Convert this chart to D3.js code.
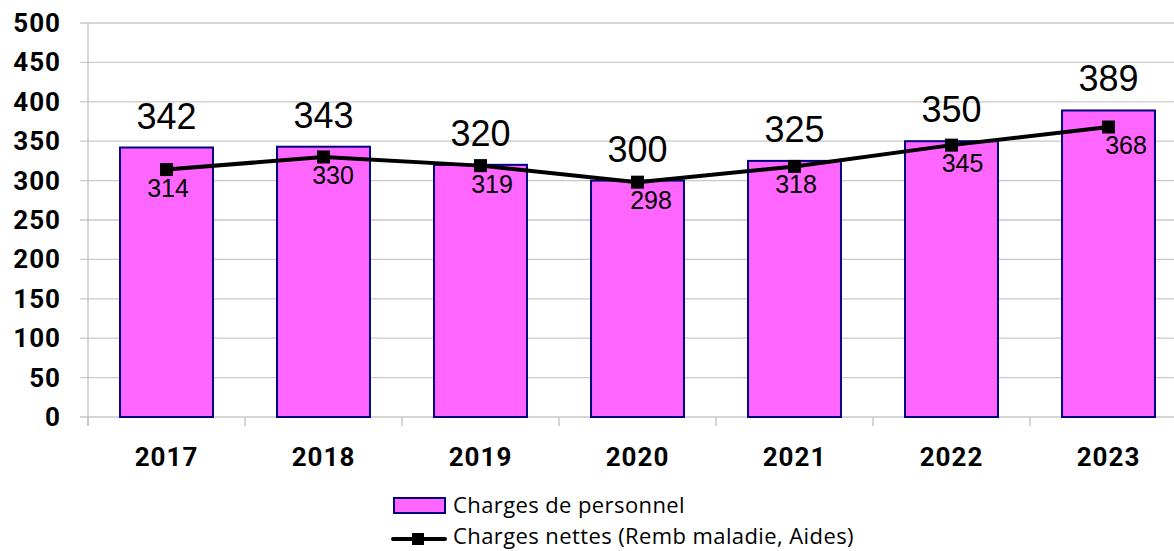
<!DOCTYPE html>
<html><head><meta charset="utf-8">
<script src="https://cdn.jsdelivr.net/npm/d3@7"></script>
<style>body{margin:0;background:#fff;}svg{display:block;}</style>
</head><body>
<svg id="c" width="1174" height="551"></svg>
<script>
const categories = ["2017","2018","2019","2020","2021","2022","2023"];
const chargesPersonnel = [342,343,320,300,325,350,389];
const chargesNettes = [314,330,319,298,318,345,368];
const yTicks = [0,50,100,150,200,250,300,350,400,450,500];
const seriesNames = ["Charges de personnel","Charges nettes (Remb maladie, Aides)"];
// label horizontal nudges (style)
const netLabelDx = [1.5,9.5,11.5,13.5,1.5,11,17.5];

const svg = d3.select("#c");
const x = d3.scaleBand().domain(categories).range([88,1187]).paddingInner(0.408).paddingOuter(0.204);
const y = d3.scaleLinear().domain([0,500]).range([417,23]);
const axisFont = "Roboto, 'Liberation Sans', sans-serif";

// gridlines
svg.append("g").selectAll("line").data(yTicks).join("line")
  .attr("x1",80).attr("x2",1174).attr("y1",d=>y(d)).attr("y2",d=>y(d))
  .attr("stroke","#c9c9c9").attr("stroke-width",1.3);
// y axis line
svg.append("line").attr("x1",88).attr("x2",88).attr("y1",y(500)).attr("y2",426)
  .attr("stroke","#c0c0c0").attr("stroke-width",1.3);
// x tick marks
svg.append("g").selectAll("line").data(d3.range(categories.length+1)).join("line")
  .attr("x1",i=>88+i*x.step()).attr("x2",i=>88+i*x.step()).attr("y1",417).attr("y2",426)
  .attr("stroke","#c0c0c0").attr("stroke-width",1.3);

// y labels
svg.append("g").selectAll("text").data(yTicks).join("text")
  .attr("x",61).attr("y",d=>y(d)+9).attr("text-anchor","end")
  .attr("font-family",axisFont).attr("font-weight","bold").attr("font-size",26)
  .attr("letter-spacing",1)
  .text(d=>d);
// x labels
svg.append("g").selectAll("text").data(categories).join("text")
  .attr("x",d=>x(d)+x.bandwidth()/2).attr("y",466).attr("text-anchor","middle")
  .attr("font-family",axisFont).attr("font-weight","bold").attr("font-size",26)
  .attr("letter-spacing",1)
  .text(d=>d);

// bars
svg.append("g").selectAll("rect").data(categories).join("rect")
  .attr("x",d=>x(d)).attr("width",x.bandwidth())
  .attr("y",(d,i)=>y(chargesPersonnel[i])).attr("height",(d,i)=>y(0)-y(chargesPersonnel[i]))
  .attr("fill","#ff66ff").attr("stroke","#000080").attr("stroke-width",2);
// bar labels
svg.append("g").selectAll("text").data(categories).join("text")
  .attr("x",d=>x(d)+x.bandwidth()/2).attr("y",(d,i)=>y(chargesPersonnel[i])-19)
  .attr("text-anchor","middle").attr("font-family","'Liberation Sans', Arial, sans-serif")
  .attr("font-size",36).attr("fill","#000").text((d,i)=>chargesPersonnel[i]);

// line
const cx = d=>x(d)+x.bandwidth()/2;
const line = d3.line().x((d,i)=>cx(categories[i])).y(d=>y(d));
svg.append("path").datum(chargesNettes).attr("d",line)
  .attr("fill","none").attr("stroke","#000").attr("stroke-width",4).attr("stroke-linejoin","round");
svg.append("g").selectAll("rect").data(chargesNettes).join("rect")
  .attr("x",(d,i)=>cx(categories[i])-6.5).attr("y",d=>y(d)-6.5)
  .attr("width",13).attr("height",13).attr("fill","#000");
svg.append("g").selectAll("text").data(chargesNettes).join("text")
  .attr("x",(d,i)=>cx(categories[i])+netLabelDx[i]).attr("y",d=>y(d)+27)
  .attr("text-anchor","middle").attr("font-family","'Liberation Sans', Arial, sans-serif")
  .attr("font-size",25).attr("fill","#000").text(d=>d);

// legend
const lg = svg.append("g").attr("font-family","'Open Sans', 'Noto Sans', sans-serif").attr("font-size",22)
  .attr("letter-spacing",0.4);
lg.append("rect").attr("x",394).attr("y",498).attr("width",51).attr("height",15)
  .attr("fill","#ff66ff").attr("stroke","#000080").attr("stroke-width",2);
lg.append("text").attr("x",453).attr("y",513).text(seriesNames[0]);
lg.append("line").attr("x1",393).attr("x2",445).attr("y1",539).attr("y2",539)
  .attr("stroke","#000").attr("stroke-width",4).attr("stroke-linecap","round");
lg.append("rect").attr("x",412).attr("y",533).attr("width",12).attr("height",12).attr("fill","#000");
lg.append("text").attr("x",453).attr("y",544).text(seriesNames[1]);
</script>
</body></html>
